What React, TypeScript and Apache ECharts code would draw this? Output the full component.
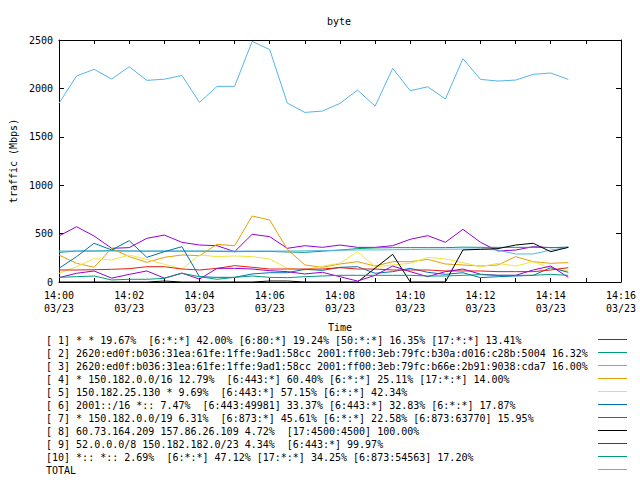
import React, { useEffect, useRef } from 'react';
import * as echarts from 'echarts';

const TITLE = 'byte';
const Y_NAME = 'traffic (Mbps)';
const X_NAME = 'Time';
const DATE_LABEL = '03/23';
const HOUR = 14;
const X_MIN = 0;
const X_MAX = 16;
const Y_MIN = 0;
const Y_MAX = 2500;
const Y_STEP = 500;

const times = [
  '14:00:00', '14:00:30', '14:01:00', '14:01:30', '14:02:00', '14:02:30',
  '14:03:00', '14:03:30', '14:04:00', '14:04:30', '14:05:00', '14:05:30',
  '14:06:00', '14:06:30', '14:07:00', '14:07:30', '14:08:00', '14:08:30',
  '14:09:00', '14:09:30', '14:10:00', '14:10:30', '14:11:00', '14:11:30',
  '14:12:00', '14:12:30', '14:13:00', '14:13:30', '14:14:00', '14:14:30',
];

const s1 = [475, 571, 475, 348, 355, 451, 485, 410, 382, 375, 313, 493, 468, 348, 375, 358, 382, 358, 358, 375, 441, 479, 410, 544, 410, 320, 330, 365, 355, 358];
const s2 = [306, 320, 320, 325, 320, 318, 318, 318, 318, 316, 313, 315, 316, 310, 306, 318, 330, 345, 352, 355, 355, 355, 355, 360, 358, 358, 358, 358, 355, 360];
const s3 = [320, 320, 320, 320, 320, 320, 320, 320, 320, 320, 320, 320, 320, 320, 322, 325, 328, 331, 331, 333, 335, 338, 338, 340, 340, 330, 289, 290, 330, 358];
const s4 = [279, 193, 152, 348, 262, 203, 255, 279, 272, 389, 375, 682, 640, 338, 176, 152, 186, 210, 165, 210, 210, 234, 186, 176, 165, 176, 262, 210, 193, 200];
const s5 = [90, 158, 241, 227, 279, 234, 183, 134, 279, 262, 269, 262, 238, 141, 124, 165, 193, 313, 158, 176, 193, 255, 238, 200, 158, 193, 165, 210, 141, 114];
const s6 = [141, 262, 400, 331, 427, 255, 313, 365, 55, 48, 48, 83, 96, 96, 131, 120, 152, 158, 90, 107, 141, 100, 79, 96, 45, 55, 62, 69, 148, 100];
const s7 = [124, 124, 127, 131, 138, 158, 158, 134, 124, 141, 169, 152, 134, 134, 134, 134, 148, 134, 134, 124, 124, 124, 114, 114, 114, 107, 107, 107, 124, 148];
const s8 = [0, 0, 0, 0, 0, 0, 10, 0, 0, 0, 0, 0, 10, 10, 0, 0, 0, 0, 143, 286, 0, 0, 0, 331, 338, 345, 382, 400, 313, 358];
const s9 = [45, 90, 114, 40, 79, 114, 40, 92, 30, 141, 141, 134, 117, 107, 83, 100, 55, 10, 69, 165, 107, 55, 107, 134, 80, 69, 69, 124, 165, 48];
const s10 = [48, 55, 62, 21, 28, 28, 38, 90, 55, 28, 48, 62, 48, 45, 55, 62, 69, 69, 69, 69, 69, 62, 62, 69, 76, 69, 69, 69, 79, 69];
const total = [1845, 2128, 2197, 2097, 2224, 2083, 2095, 2134, 1855, 2021, 2021, 2486, 2400, 1848, 1752, 1766, 1845, 1983, 1817, 2207, 1976, 2017, 1890, 2307, 2093, 2076, 2086, 2145, 2159, 2093];

const seriesNames = [
  '[ 1] * * 19.67%  [6:*:*] 42.00% [6:80:*] 19.24% [50:*:*] 16.35% [17:*:*] 13.41%',
  '[ 2] 2620:ed0f:b036:31ea:61fe:1ffe:9ad1:58cc 2001:ff00:3eb:79fc:b30a:d016:c28b:5004 16.32%',
  '[ 3] 2620:ed0f:b036:31ea:61fe:1ffe:9ad1:58cc 2001:ff00:3eb:79fc:b66e:2b91:9038:cda7 16.00%',
  '[ 4] * 150.182.0.0/16 12.79%  [6:443:*] 60.40% [6:*:*] 25.11% [17:*:*] 14.00%',
  '[ 5] 150.182.25.130 * 9.69%  [6:443:*] 57.15% [6:*:*] 42.34%',
  '[ 6] 2001::/16 *:: 7.47%  [6:443:49981] 33.37% [6:443:*] 32.83% [6:*:*] 17.87%',
  '[ 7] * 150.182.0.0/19 6.31%  [6:873:*] 45.61% [6:*:*] 22.58% [6:873:63770] 15.95%',
  '[ 8] 60.73.164.209 157.86.26.109 4.72%  [17:4500:4500] 100.00%',
  '[ 9] 52.0.0.0/8 150.182.182.0/23 4.34%  [6:443:*] 99.97%',
  '[10] *:: *:: 2.69%  [6:*:*] 47.12% [17:*:*] 34.25% [6:873:54563] 17.20%',
  'TOTAL',
];

const seriesColors = [
  '#9400D3', '#009E73', '#56B4E9', '#E69F00', '#F0E442', '#0072B2',
  '#E51E10', '#000000', '#9400D3', '#009E73', '#56B4E9',
];

const FONT = 'DejaVu Sans Mono';

const toMinutes = (t: string) => {
  const [h, m, s] = t.split(':').map(Number);
  return (h - HOUR) * 60 + m + s / 60;
};

const pad = (n: number) => (n < 10 ? '0' + n : '' + n);

export default function App() {
  const ref = useRef<HTMLDivElement>(null);
  useEffect(() => {
    if (!ref.current) return;
    const chart = echarts.init(ref.current, undefined, { renderer: 'svg' });
    const allValues = [s1, s2, s3, s4, s5, s6, s7, s8, s9, s10, total];
    const series = allValues.map((vals, k) => ({
      type: 'line',
      name: seriesNames[k],
      data: vals.map((v, i) => [toMinutes(times[i]), v]),
      symbol: 'none',
      showSymbol: false,
      silent: true,
      lineStyle: { color: seriesColors[k], width: 1 },
      itemStyle: { color: seriesColors[k] },
    }));

    const legendGraphics: any[] = [];
    seriesNames.forEach((name, k) => {
      legendGraphics.push({
        type: 'text',
        x: 46,
        y: 340.5 + 13 * k,
        style: {
          text: name,
          fill: '#000',
          font: `10px "${FONT}"`,
          textAlign: 'left',
          textVerticalAlign: 'middle',
        },
      });
      legendGraphics.push({
        type: 'line',
        shape: { x1: 598, y1: 339.5 + 13 * k, x2: 627, y2: 339.5 + 13 * k },
        style: { stroke: seriesColors[k], lineWidth: 1 },
      });
    });

    const axisLine = { show: true, onZero: false, lineStyle: { color: '#000', width: 1 } };
    const labelStyle = { color: '#000', fontFamily: FONT, fontSize: 10 };

    chart.setOption({
      animation: false,
      backgroundColor: '#fff',
      grid: { left: 58, right: 19, top: 40, bottom: 198, containLabel: false },
      xAxis: [
        {
          type: 'value',
          min: X_MIN,
          max: X_MAX,
          interval: 1,
          axisLine,
          axisTick: { show: true, inside: true, length: 4, lineStyle: { color: '#000' } },
          axisLabel: {
            ...labelStyle,
            margin: 7,
            lineHeight: 13,
            showMinLabel: true,
            showMaxLabel: true,
            formatter: (v: number) => (v % 2 === 0 ? `${HOUR}:${pad(v)}\n${DATE_LABEL}` : ''),
          },
          splitLine: { show: false },
          name: X_NAME,
          nameLocation: 'middle',
          nameGap: 40,
          nameTextStyle: { ...labelStyle },
        },
        {
          type: 'value',
          position: 'top',
          min: X_MIN,
          max: X_MAX,
          interval: 1,
          axisLine,
          axisTick: { show: true, inside: true, length: 4, lineStyle: { color: '#000' } },
          axisLabel: { show: false },
          splitLine: { show: false },
        },
      ],
      yAxis: [
        {
          type: 'value',
          min: Y_MIN,
          max: Y_MAX,
          interval: Y_STEP,
          axisLine,
          axisTick: { show: true, inside: true, length: 5, lineStyle: { color: '#000' } },
          axisLabel: { ...labelStyle, margin: 6, formatter: (v: number) => String(v) },
          splitLine: { show: false },
          name: Y_NAME,
          nameLocation: 'middle',
          nameGap: 40,
          nameRotate: 90,
          nameTextStyle: { ...labelStyle },
        },
        {
          type: 'value',
          position: 'right',
          min: Y_MIN,
          max: Y_MAX,
          interval: Y_STEP,
          axisLine,
          axisTick: { show: true, inside: true, length: 5, lineStyle: { color: '#000' } },
          axisLabel: { show: false },
          splitLine: { show: false },
        },
      ],
      graphic: [
        {
          type: 'text',
          x: 339,
          y: 21,
          style: {
            text: TITLE,
            fill: '#000',
            font: `10px "${FONT}"`,
            textAlign: 'center',
            textVerticalAlign: 'middle',
          },
        },
        ...legendGraphics,
      ],
      series,
    });
    return () => chart.dispose();
  }, []);
  return (
    <div
      ref={ref}
      style={{ position: 'fixed', left: 0, top: 0, width: 640, height: 480, background: '#fff' }}
    />
  );
}
